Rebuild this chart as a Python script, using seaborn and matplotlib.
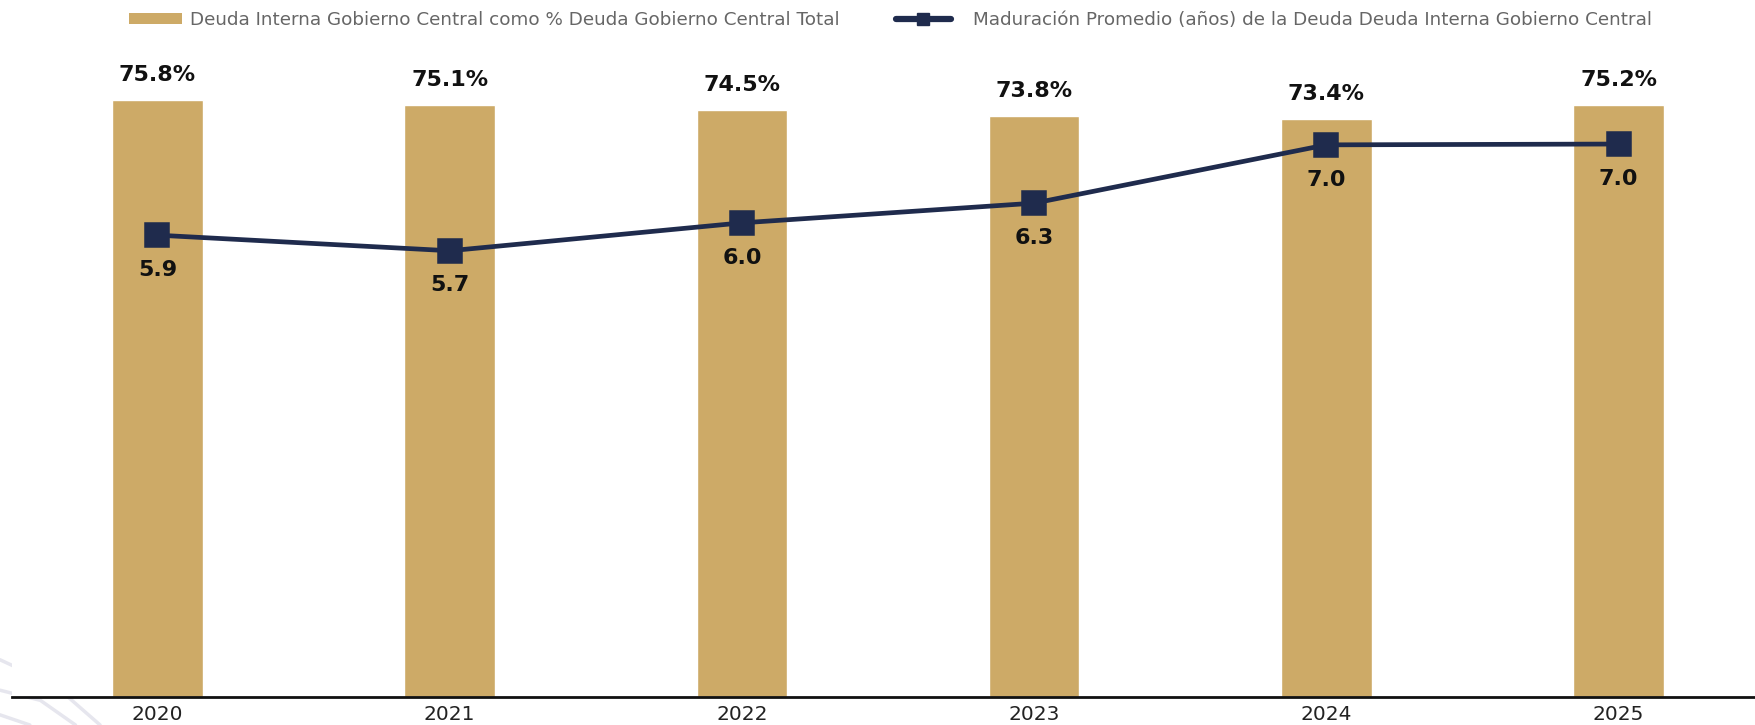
import seaborn as sns
import matplotlib.pyplot as plt
import pandas as pd
from matplotlib.lines import Line2D
from matplotlib.patches import Patch

sns.set_theme(style="white")
plt.rcParams["font.family"] = ["DejaVu Sans"]

years = ["2020", "2021", "2022", "2023", "2024", "2025"]
deuda_interna_pct = [75.8, 75.1, 74.5, 73.8, 73.4, 75.2]
maduracion_anios = [5.89, 5.70, 6.04, 6.28, 6.99, 7.00]

label_bar = "Deuda Interna Gobierno Central como % Deuda Gobierno Central Total"
label_line = "Maduración Promedio (años) de la Deuda Deuda Interna Gobierno Central"

gold = "#CDAA67"
navy = "#1F2B4D"

df = pd.DataFrame({"year": years, "pct": deuda_interna_pct, "mat": maduracion_anios})

fig = plt.figure(figsize=(17.56, 7.25), dpi=100)
ax = fig.add_axes([0.0068, 0.0386, 0.9932, 0.9062])

# bars: share of internal debt
sns.barplot(data=df, x="year", y="pct", color=gold, width=0.31,
            saturation=1, ax=ax, zorder=2)

# line: average maturity on a secondary axis
ax2 = ax.twinx()
sns.pointplot(data=df, x="year", y="mat", color=navy, markers="s",
              markersize=16, linewidth=3.4, ax=ax2)

ax.set_xlim(-0.498, 5.47)
ax2.set_xlim(-0.498, 5.47)
ax.set_ylim(0, 83.4)
ax2.set_ylim(0.264, 8.267)

for a in (ax, ax2):
    a.set_ylabel("")
    a.set_xlabel("")
    a.set_yticks([])
    for side in ("top", "right", "left"):
        a.spines[side].set_visible(False)
ax2.spines["bottom"].set_visible(False)
ax.spines["bottom"].set_color("#111111")
ax.spines["bottom"].set_linewidth(2)
ax.tick_params(axis="x", length=0, pad=6, labelsize=14.5, labelcolor="#222222")

# labels
for i, v in enumerate(deuda_interna_pct):
    ax.annotate(f"{v:.1f}%", (i, v), xytext=(0, 18), textcoords="offset points",
                ha="center", va="center", fontsize=16, fontweight="bold",
                color="#111111")
for i, v in enumerate(maduracion_anios):
    ax2.annotate(f"{v:.1f}", (i, v), xytext=(0, -25), textcoords="offset points",
                 ha="center", va="center", fontsize=16, fontweight="bold",
                 color="#111111")

# legend (two entries placed separately)
leg_kw = dict(frameon=False, loc="center left", borderaxespad=0, borderpad=0,
              labelcolor="#666666", prop={"family": "DejaVu Sans", "size": 13.2},
              handleheight=0.55)
fig.legend([Patch(facecolor=gold, edgecolor="none")], [label_bar],
           bbox_to_anchor=(0.0735, 0.973), handlelength=2.9,
           handletextpad=0.4, **leg_kw)
fig.legend([Line2D([0], [0], color=navy, lw=4.5, marker="s", markersize=8,
                   solid_capstyle="round")], [label_line],
           bbox_to_anchor=(0.510, 0.973), handlelength=3.0,
           handletextpad=1.2, **leg_kw)

# faint background strokes, bottom left
for xs, ys in [([0, 0.031, 0.057], [0.09, 0.055, 0.0]),
               ([0, 0.023, 0.043], [0.048, 0.034, 0.0]),
               ([0, 0.017], [0.014, 0.0])]:
    fig.add_artist(Line2D(xs, ys, transform=fig.transFigure,
                          color="#e6e6ee", lw=2.5, zorder=0))

fig.savefig("out.png", dpi=100)
